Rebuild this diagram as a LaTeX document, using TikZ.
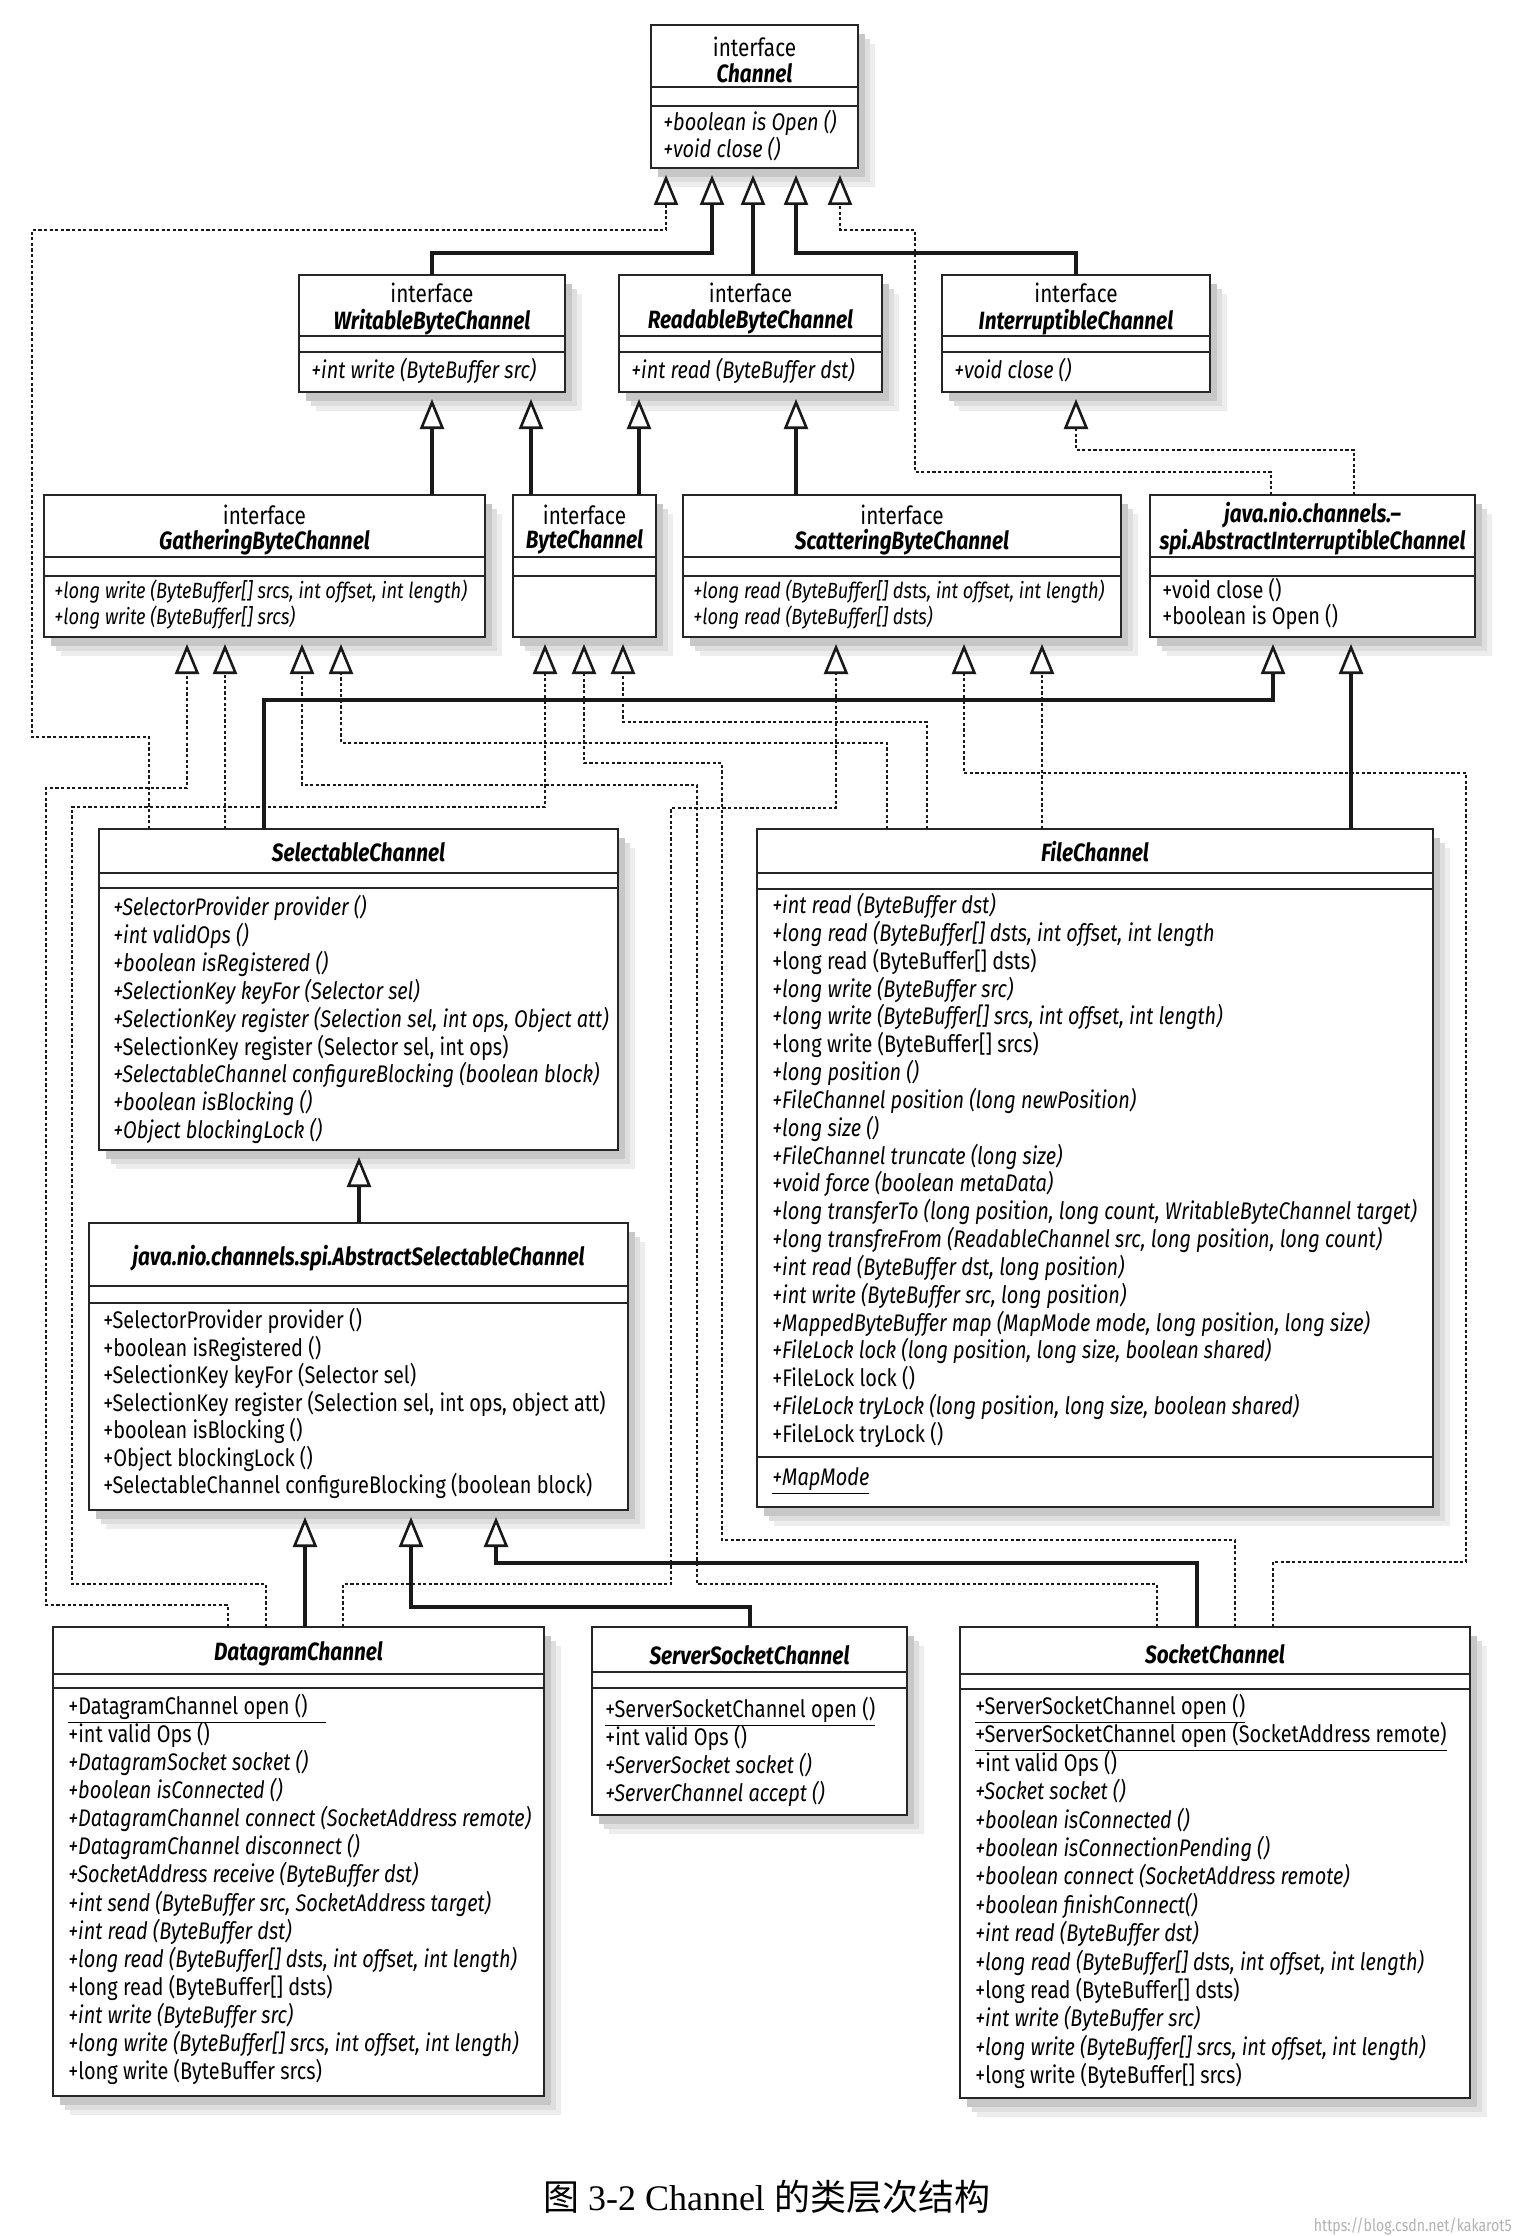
\documentclass[tikz,border=0pt]{standalone}
\usepackage{fontspec}
\setmainfont{Fira Sans}[FakeStretch=0.83]
\newfontfamily\capfont{Liberation Serif}
\newfontfamily\cjk{Noto Sans CJK SC}
\usetikzlibrary{arrows.meta}

\tikzset{
 umlframe/.style={draw=black!85, line width=1.2pt, fill=white, inner sep=0pt, outer sep=0pt, anchor=north west},
 sepl/.style={draw=black!85, line width=1.2pt},
 tipx/.style={-{Triangle[length=15pt,width=12pt,fill=white,line width=1.3pt]}, shorten >=3.5pt},
 gen/.style={tipx, line width=1.6pt, draw=black!90},
 real/.style={tipx, line width=1pt, dash pattern=on 1.6pt off 1.2pt, draw=black!90},
 mt/.style={anchor=west, inner sep=0pt, text height=8.5pt, text depth=2.7pt, font=\fontsize{12}{14}\selectfont},
 mi/.style={mt, font=\fontsize{12}{14}\selectfont\itshape},
 mis/.style={mt, font=\fontsize{11}{13}\selectfont\itshape},
 ifc/.style={inner sep=0pt, font=\fontsize{12.5}{14}\selectfont},
 cname/.style={inner sep=0pt, font=\fontsize{12.5}{14}\selectfont\bfseries\itshape},
}

% name, x1, y1, x2, y2, sep1, sep2
\newcommand\umlbox[7]{%
 \fill[black!7] (#2+17,#3+19) rectangle (#4+17,#5+19);
 \fill[black!13] (#2+12,#3+14) rectangle (#4+12,#5+14);
 \fill[black!22] (#2+7,#3+9) rectangle (#4+7,#5+9);
 \node[umlframe, minimum width={(#4-#2)*0.5pt}, minimum height={(#5-#3)*0.5pt}] (#1) at (#2,#3) {};
 \draw[sepl] (#2,#6) -- (#4,#6);
 \draw[sepl] (#2,#7) -- (#4,#7);
}
\newcommand\mU[4]{\node[mt] (#1) at (#2,#3) {#4};}
\newcommand\mI[4]{\node[mi] (#1) at (#2,#3) {#4};}
\newcommand\mS[4]{\node[mis] (#1) at (#2,#3) {#4};}
\newcommand\tC[5]{\node[#4] (#1) at (#2,#3) {#5};}

\begin{document}
\begin{tikzpicture}[x=0.5pt,y=-0.5pt]
\fill[white] (0,0) rectangle (1516,2236);
\useasboundingbox (0,0) rectangle (1516,2236);

% ---------- boxes ----------
\umlbox{chan}{651}{25}{858}{168}{87}{106}
\umlbox{writ}{299}{275}{565}{392}{336}{352}
\umlbox{read}{619}{275}{882}{392}{336}{352}
\umlbox{intr}{942}{275}{1210}{392}{336}{352}
\umlbox{gath}{44}{495}{485}{637}{557}{576}
\umlbox{byte}{513}{495}{656}{637}{557}{576}
\umlbox{scat}{683}{495}{1121}{637}{557}{576}
\umlbox{absint}{1150}{495}{1475}{637}{557}{576}
\umlbox{sel}{99}{829}{618}{1150}{873}{888}
\umlbox{abssel}{89}{1223}{628}{1510}{1286}{1303}
\umlbox{file}{757}{829}{1433}{1507}{873}{889}
\draw[sepl] (757,1457) -- (1433,1457);
\umlbox{dgram}{53}{1627}{544}{2096}{1674}{1688}
\umlbox{ssock}{592}{1627}{907}{1815}{1672}{1688}
\umlbox{sock}{960}{1627}{1470}{2098}{1674}{1689}

% ---------- texts ----------
\tC{chan-a}{754.5}{47}{ifc}{interface}
\tC{chan-b}{754.5}{73}{cname}{Channel}
\mI{chan-m1}{663}{125}{+boolean is Open ()}
\mI{chan-m2}{663}{152}{+void close ()}

\tC{writ-a}{432}{293}{ifc}{interface}
\tC{writ-b}{432}{322}{cname}{WritableByteChannel}
\mI{writ-m1}{311}{373}{+int write (ByteBuffer src)}
\tC{read-a}{750.5}{293}{ifc}{interface}
\tC{read-b}{750.5}{322}{cname}{ReadableByteChannel}
\mI{read-m1}{631}{373}{+int read (ByteBuffer dst)}
\tC{intr-a}{1076}{293}{ifc}{interface}
\tC{intr-b}{1076}{322}{cname}{InterruptibleChannel}
\mI{intr-m1}{954}{373}{+void close ()}

\tC{gath-a}{264.5}{515}{ifc}{interface}
\tC{gath-b}{264.5}{542}{cname}{GatheringByteChannel}
\mS{gath-m1}{54}{593}{+long write (ByteBuffer[] srcs, int offset, int length)}
\mS{gath-m2}{54}{619}{+long write (ByteBuffer[] srcs)}
\tC{byte-a}{584.5}{515}{ifc}{interface}
\tC{byte-b}{584.5}{542}{cname}{ByteChannel}
\tC{scat-a}{902}{515}{ifc}{interface}
\tC{scat-b}{902}{542}{cname}{ScatteringByteChannel}
\mS{scat-m1}{693}{593}{+long read (ByteBuffer[] dsts, int offset, int length)}
\mS{scat-m2}{693}{619}{+long read (ByteBuffer[] dsts)}
\tC{absint-a}{1312.5}{515}{cname}{java.nio.channels.–}
\tC{absint-b}{1312.5}{542}{cname}{spi.AbstractInterruptibleChannel}
\mU{absint-m1}{1162}{593}{+void close ()}
\mU{absint-m2}{1162}{619}{+boolean is Open ()}

\tC{sel-a}{358.5}{852}{cname}{SelectableChannel}
\mI{sel-m1}{113}{910}{+SelectorProvider provider ()}
\mI{sel-m2}{113}{938}{+int validOps ()}
\mI{sel-m3}{113}{966}{+boolean isRegistered ()}
\mI{sel-m4}{113}{994}{+SelectionKey keyFor (Selector sel)}
\mI{sel-m5}{113}{1022}{+SelectionKey register (Selection sel, int ops, Object att)}
\mU{sel-m6}{113}{1050}{+SelectionKey register (Selector sel, int ops)}
\mI{sel-m7}{113}{1077}{+SelectableChannel configureBlocking (boolean block)}
\mI{sel-m8}{113}{1105}{+boolean isBlocking ()}
\mI{sel-m9}{113}{1133}{+Object blockingLock ()}

\tC{abssel-a}{358.5}{1258}{cname}{java.nio.channels.spi.AbstractSelectableChannel}
\mU{abssel-m1}{103}{1323}{+SelectorProvider provider ()}
\mU{abssel-m2}{103}{1351}{+boolean isRegistered ()}
\mU{abssel-m3}{103}{1378}{+SelectionKey keyFor (Selector sel)}
\mU{abssel-m4}{103}{1406}{+SelectionKey register (Selection sel, int ops, object att)}
\mU{abssel-m5}{103}{1433}{+boolean isBlocking ()}
\mU{abssel-m6}{103}{1461}{+Object blockingLock ()}
\mU{abssel-m7}{103}{1488}{+SelectableChannel configureBlocking (boolean block)}

\tC{file-a}{1095}{852}{cname}{FileChannel}
\mI{file-m1}{772}{908}{+int read (ByteBuffer dst)}
\mI{file-m2}{772}{936}{+long read (ByteBuffer[] dsts, int offset, int length}
\mU{file-m3}{772}{964}{+long read (ByteBuffer[] dsts)}
\mI{file-m4}{772}{992}{+long write (ByteBuffer src)}
\mI{file-m5}{772}{1019}{+long write (ByteBuffer[] srcs, int offset, int length)}
\mU{file-m6}{772}{1047}{+long write (ByteBuffer[] srcs)}
\mI{file-m7}{772}{1075}{+long position ()}
\mI{file-m8}{772}{1103}{+FileChannel position (long newPosition)}
\mI{file-m9}{772}{1131}{+long size ()}
\mI{file-m10}{772}{1159}{+FileChannel truncate (long size)}
\mI{file-m11}{772}{1186}{+void force (boolean metaData)}
\mI{file-m12}{772}{1214}{+long transferTo (long position, long count, WritableByteChannel target)}
\mI{file-m13}{772}{1242}{+long transfreFrom (ReadableChannel src, long position, long count)}
\mI{file-m14}{772}{1270}{+int read (ByteBuffer dst, long position)}
\mI{file-m15}{772}{1298}{+int write (ByteBuffer src, long position)}
\mI{file-m16}{772}{1326}{+MappedByteBuffer map (MapMode mode, long position, long size)}
\mI{file-m17}{772}{1353}{+FileLock lock (long position, long size, boolean shared)}
\mU{file-m18}{772}{1381}{+FileLock lock ()}
\mI{file-m19}{772}{1409}{+FileLock tryLock (long position, long size, boolean shared)}
\mU{file-m20}{772}{1437}{+FileLock tryLock ()}
\mI{file-m21}{772}{1480}{\underline{+MapMode}}

\tC{dgram-a}{298.5}{1654}{cname}{DatagramChannel}
\mU{dgram-m1}{68}{1709}{\underline{+DatagramChannel open ()\hspace{9pt}}}
\mU{dgram-m2}{68}{1737}{+int valid Ops ()}
\mI{dgram-m3}{68}{1765}{+DatagramSocket socket ()}
\mI{dgram-m4}{68}{1793}{+boolean isConnected ()}
\mI{dgram-m5}{68}{1821}{+DatagramChannel connect (SocketAddress remote)}
\mI{dgram-m6}{68}{1849}{+DatagramChannel disconnect ()}
\mI{dgram-m7}{68}{1877}{+SocketAddress receive (ByteBuffer dst)}
\mI{dgram-m8}{68}{1906}{+int send (ByteBuffer src, SocketAddress target)}
\mI{dgram-m9}{68}{1934}{+int read (ByteBuffer dst)}
\mI{dgram-m10}{68}{1962}{+long read (ByteBuffer[] dsts, int offset, int length)}
\mU{dgram-m11}{68}{1990}{+long read (ByteBuffer[] dsts)}
\mI{dgram-m12}{68}{2018}{+int write (ByteBuffer src)}
\mI{dgram-m13}{68}{2046}{+long write (ByteBuffer[] srcs, int offset, int length)}
\mU{dgram-m14}{68}{2074}{+long write (ByteBuffer srcs)}

\tC{ssock-a}{749.5}{1655}{cname}{ServerSocketChannel}
\mU{ssock-m1}{605}{1712}{\underline{+ServerSocketChannel open ()}}
\mU{ssock-m2}{605}{1740}{+int valid Ops ()}
\mI{ssock-m3}{605}{1768}{+ServerSocket socket ()}
\mI{ssock-m4}{605}{1796}{+ServerChannel accept ()}

\tC{sock-a}{1215}{1654}{cname}{SocketChannel}
\mU{sock-m1}{975}{1709}{\underline{+ServerSocketChannel open ()}}
\mU{sock-m2}{975}{1737}{\underline{+ServerSocketChannel open (SocketAddress remote)}}
\mU{sock-m3}{975}{1766}{+int valid Ops ()}
\mI{sock-m4}{975}{1794}{+Socket socket ()}
\mI{sock-m5}{975}{1823}{+boolean isConnected ()}
\mI{sock-m6}{975}{1851}{+boolean isConnectionPending ()}
\mI{sock-m7}{975}{1879}{+boolean connect (SocketAddress remote)}
\mI{sock-m8}{975}{1908}{+boolean finishConnect()}
\mI{sock-m9}{975}{1936}{+int read (ByteBuffer dst)}
\mI{sock-m10}{975}{1965}{+long read (ByteBuffer[] dsts, int offset, int length)}
\mU{sock-m11}{975}{1993}{+long read (ByteBuffer[] dsts)}
\mI{sock-m12}{975}{2021}{+int write (ByteBuffer src)}
\mI{sock-m13}{975}{2050}{+long write (ByteBuffer[] srcs, int offset, int length)}
\mU{sock-m14}{975}{2078}{+long write (ByteBuffer[] srcs)}

% ---------- connectors ----------
\draw[real] (sel.north -| 149,0) |- (32,737) |- (666,230) -- (chan.south -| 666,0);
\draw[gen] (writ.north) |- (712,253) -- (chan.south -| 712,0);
\draw[gen] (read.north -| 753,0) -- (chan.south -| 753,0);
\draw[gen] (intr.north) |- (796,253) -- (chan.south -| 796,0);
\draw[real] (absint.north -| 1271,0) |- (915,472) |- (840,230) -- (chan.south -| 840,0);

\draw[gen] (gath.north -| 432,0) -- (writ.south -| 432,0);
\draw[gen] (byte.north -| 531,0) -- (writ.south -| 531,0);
\draw[gen] (byte.north -| 639,0) -- (read.south -| 639,0);
\draw[gen] (scat.north -| 796,0) -- (read.south -| 796,0);
\draw[real] (absint.north -| 1354,0) |- (1076,450) -- (intr.south);

\draw[real] (dgram.north -| 228,0) |- (46,1605) |- (187,788) -- (gath.south -| 187,0);
\draw[real] (sel.north -| 225,0) -- (gath.south -| 225,0);
\draw[real] (sock.north -| 1157,0) |- (697,1584) |- (302,785) -- (gath.south -| 302,0);
\draw[real] (file.north -| 887,0) |- (341,743) -- (gath.south -| 341,0);
\draw[real] (dgram.north -| 266,0) |- (72,1584) |- (545,807) -- (byte.south -| 545,0);
\draw[real] (sock.north -| 1235,0) |- (722,1540) |- (584,763) -- (byte.south -| 584,0);
\draw[real] (file.north -| 927,0) |- (623,722) -- (byte.south -| 623,0);
\draw[real] (dgram.north -| 343,0) |- (671,1584) |- (836,808) -- (scat.south -| 836,0);
\draw[real] (file.north -| 1042,0) -- (scat.south -| 1042,0);
\draw[real] (sock.north -| 1273,0) |- (1466,1562) |- (964,773) -- (scat.south -| 964,0);
\draw[gen] (sel.north -| 264,0) |- (1273,700) -- (absint.south -| 1273,0);
\draw[gen] (file.north -| 1351,0) -- (absint.south -| 1351,0);

\draw[gen] (abssel.north -| 359,0) -- (sel.south -| 359,0);
\draw[gen] (dgram.north -| 305,0) -- (abssel.south -| 305,0);
\draw[gen] (ssock.north -| 750,0) |- (411,1607) -- (abssel.south -| 411,0);
\draw[gen] (sock.north -| 1197,0) |- (496,1563) -- (abssel.south -| 496,0);

% ---------- caption ----------
\node[inner sep=0pt, font=\fontsize{18}{20}\selectfont] (cap) at (767,2197) {\cjk 图 \capfont 3-2 Channel \cjk 的类层次结构};
\node[anchor=east, inner sep=0pt, text=black!30, font=\fontsize{8.5}{10}\selectfont] (wm) at (1512,2226) {https://blog.csdn.net/kakarot5};
\end{tikzpicture}
\end{document}
